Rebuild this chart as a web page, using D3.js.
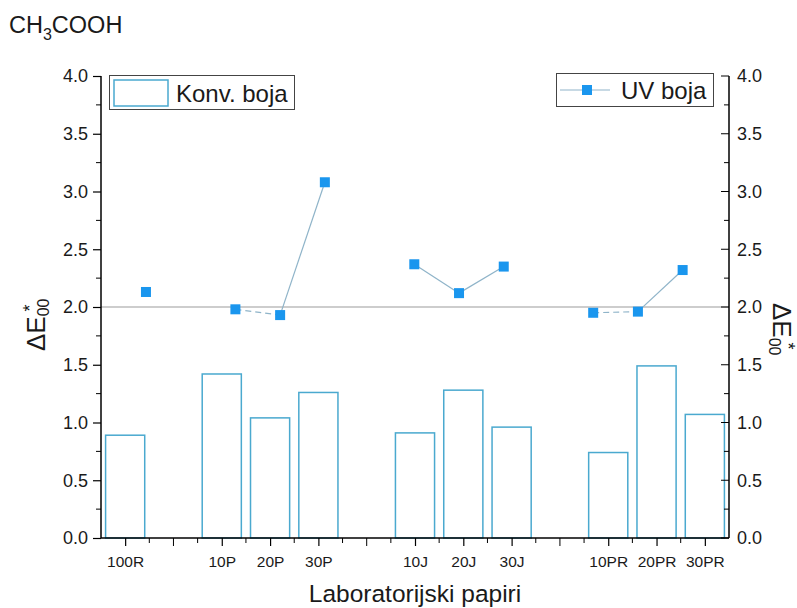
<!DOCTYPE html>
<html>
<head>
<meta charset="utf-8">
<script src="https://cdn.jsdelivr.net/npm/d3@7"></script>
<style>
  body { margin: 0; background: #fff; }
  text { font-family: Arial, "Liberation Sans", sans-serif; fill: #1a1a1a; }
</style>
</head>
<body>
<svg id="chart" width="797" height="608"></svg>
<script>
// data
const categories = ['100R', '10P', '20P', '30P', '10J', '20J', '30J', '10PR', '20PR', '30PR'];
const slots = [1, 3, 4, 5, 7, 8, 9, 11, 12, 13];          // category position on the x axis
const groups = ['R', 'P', 'P', 'P', 'J', 'J', 'J', 'PR', 'PR', 'PR'];
const konvBoja = [0.89, 1.42, 1.04, 1.26, 0.91, 1.28, 0.96, 0.74, 1.49, 1.07];
const uvBoja = [2.13, 1.98, 1.93, 3.08, 2.37, 2.12, 2.35, 1.95, 1.96, 2.32];
const refLine = 2.0;
const yTicks = [0, 0.5, 1, 1.5, 2, 2.5, 3, 3.5, 4];

const svg = d3.select('#chart');
const pLeft = 101, pRight = 729, pTop = 76, pBottom = 538;

const x = d3.scaleLinear().domain([0.5, 13.5]).range([pLeft, pRight]);
// the UV layer sits on its own, slightly narrower x layer in the original
const xUV = d3.scaleLinear().domain([0.5, 13.5]).range([123.6, 705]);
const y = d3.scaleLinear().domain([0, 4]).range([pBottom, pTop]);

const barColor = '#4aa9cf';
const markColor = '#1a96ee';
const lineColor = '#8fb4c9';

// reference line
svg.append('line')
  .attr('x1', x(0.5)).attr('x2', x(13.5))
  .attr('y1', y(refLine)).attr('y2', y(refLine))
  .attr('stroke', '#bdbdbd').attr('stroke-width', 1.5);

// bars
const slotW = x(2) - x(1);
const barW = slotW * 0.81;
svg.selectAll('.bar')
  .data(categories.map((c, i) => ({ pos: slots[i], v: konvBoja[i] })))
  .enter().append('rect')
  .attr('class', 'bar')
  .attr('x', d => x(d.pos) - barW / 2)
  .attr('y', d => y(d.v))
  .attr('width', barW)
  .attr('height', d => y(0) - y(d.v))
  .attr('fill', 'none')
  .attr('stroke', barColor)
  .attr('stroke-width', 1.5);

// UV line segments within each group
const pts = categories.map((c, i) => ({ pos: slots[i], v: uvBoja[i], g: groups[i] }));
for (let i = 1; i < pts.length; i++) {
  const a = pts[i - 1], b = pts[i];
  if (a.g !== b.g) continue;
  const dashed = a.v < refLine && b.v < refLine;
  svg.append('line')
    .attr('x1', xUV(a.pos)).attr('y1', y(a.v))
    .attr('x2', xUV(b.pos)).attr('y2', y(b.v))
    .attr('stroke', lineColor)
    .attr('stroke-width', 1.2)
    .attr('stroke-dasharray', dashed ? '6,4' : null);
}

// markers
svg.selectAll('.mark')
  .data(pts)
  .enter().append('rect')
  .attr('class', 'mark')
  .attr('x', d => xUV(d.pos) - 5)
  .attr('y', d => y(d.v) - 5)
  .attr('width', 10).attr('height', 10)
  .attr('fill', markColor);

// axes
const minorY = d3.range(0.25, 4, 0.5);
const axisL = svg.append('g').attr('transform', `translate(${pLeft},0)`);
axisL.call(d3.axisLeft(y).tickValues(yTicks).tickFormat(d3.format('.1f')).tickSize(8).tickPadding(5));
axisL.selectAll('line.minor').data(minorY).enter().append('line')
  .attr('x1', -5).attr('x2', 0).attr('y1', d => y(d)).attr('y2', d => y(d)).attr('stroke', '#000');

const axisR = svg.append('g').attr('transform', `translate(${pRight},0)`);
axisR.call(d3.axisRight(y).tickValues(yTicks).tickFormat(d3.format('.1f')).tickSize(0).tickPadding(8));
axisR.selectAll('line.major').data(yTicks).enter().append('line')
  .attr('x1', -8).attr('x2', 0).attr('y1', d => y(d)).attr('y2', d => y(d)).attr('stroke', '#000');
axisR.selectAll('line.minor').data(minorY).enter().append('line')
  .attr('x1', -5).attr('x2', 0).attr('y1', d => y(d)).attr('y2', d => y(d)).attr('stroke', '#000');

const axisB = svg.append('g').attr('transform', `translate(0,${pBottom})`);
axisB.call(d3.axisBottom(x).tickValues(slots).tickFormat((d, i) => categories[i]).tickSize(8).tickPadding(10));
axisB.selectAll('line.major2').data([2, 6, 10]).enter().append('line')
  .attr('x1', d => x(d)).attr('x2', d => x(d)).attr('y1', 0).attr('y2', 8).attr('stroke', '#000');
axisB.selectAll('line.minor').data(d3.range(1.5, 13.5, 1)).enter().append('line')
  .attr('x1', d => x(d)).attr('x2', d => x(d)).attr('y1', 0).attr('y2', 5).attr('stroke', '#000');

[axisL, axisR, axisB].forEach(a => {
  a.select('.domain').attr('stroke', '#000').attr('stroke-width', 1.5);
  a.selectAll('.tick line').attr('stroke-width', 1.2);
});
axisL.selectAll('text').style('font-size', '18px');
axisR.selectAll('text').style('font-size', '18px');
axisB.selectAll('text').style('font-size', '15.5px');
axisL.select('.domain').attr('d', `M0,${pTop}V${pBottom}`);
axisR.select('.domain').attr('d', `M0,${pTop}V${pBottom}`);
axisB.select('.domain').attr('d', `M${pLeft},0H${pRight}`);

// titles
svg.append('text').attr('x', 9).attr('y', 33).style('font-size', '23.5px')
  .call(t => {
    t.append('tspan').text('CH');
    t.append('tspan').attr('dy', 7).style('font-size', '16px').text('3');
    t.append('tspan').attr('dy', -7).text('COOH');
  });

svg.append('text')
  .attr('x', 415).attr('y', 602)
  .attr('text-anchor', 'middle')
  .style('font-size', '24.5px')
  .text('Laboratorijski papiri');

// ΔE00* with the asterisk stacked over the subscript
function deltaLabel(sel) {
  sel.append('tspan').text('ΔE');
  sel.append('tspan').attr('dy', 4).style('font-size', '16px').text('00');
  sel.append('tspan').attr('dx', -13).attr('dy', -13).style('font-size', '18px').text('*');
}
svg.append('text')
  .attr('transform', 'translate(45,351) rotate(-90)')
  .style('font-size', '26px')
  .call(deltaLabel);
svg.append('text')
  .attr('transform', 'translate(773,303) rotate(90)')
  .style('font-size', '26px')
  .call(deltaLabel);

// legends
const lg1 = svg.append('g');
lg1.append('rect').attr('x', 109.5).attr('y', 75.5).attr('width', 185).attr('height', 34)
  .attr('fill', '#fff').attr('stroke', '#444').attr('stroke-width', 1);
lg1.append('rect').attr('x', 114).attr('y', 80).attr('width', 54).attr('height', 26)
  .attr('fill', 'none').attr('stroke', barColor).attr('stroke-width', 1.5);
lg1.append('text').attr('x', 176).attr('y', 102).style('font-size', '24px').text('Konv. boja');

const lg2 = svg.append('g');
lg2.append('rect').attr('x', 556.5).attr('y', 73.5).attr('width', 157).attr('height', 33)
  .attr('fill', '#fff').attr('stroke', '#444').attr('stroke-width', 1);
lg2.append('line').attr('x1', 560).attr('x2', 610).attr('y1', 90).attr('y2', 90)
  .attr('stroke', lineColor).attr('stroke-width', 1.2);
lg2.append('rect').attr('x', 582).attr('y', 85).attr('width', 10).attr('height', 10).attr('fill', markColor);
lg2.append('text').attr('x', 621).attr('y', 99).style('font-size', '24px').text('UV boja');
</script>
</body>
</html>
